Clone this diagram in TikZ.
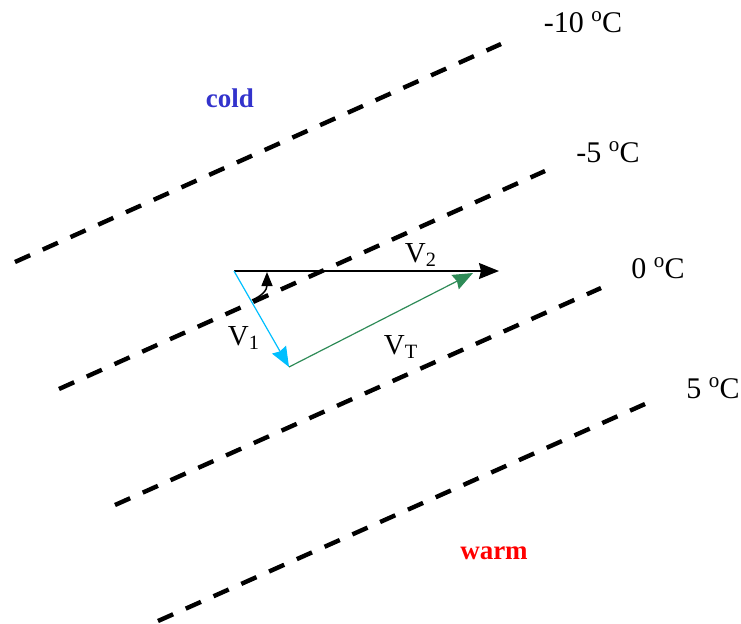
\documentclass[tikz,border=0pt]{standalone}
\usepackage{fontspec}
\setmainfont{Liberation Serif}
\usepackage{tikz}
\usetikzlibrary{arrows.meta,calc}
\definecolor{coldblue}{RGB}{51,51,204}
\definecolor{vgreen}{RGB}{46,139,87}
\definecolor{vcyan}{RGB}{0,191,255}
\newcommand{\degC}{ \textsuperscript{o}\kern-0.3pt C}

\begin{document}
\begin{tikzpicture}[x=0.5pt,y=-0.5pt,>={Stealth[length=10pt,width=8pt,inset=1pt]},
  isotherm/.style={line width=2.2pt,dash pattern=on 8.3pt off 6.9pt},
  templabel/.style={font=\fontsize{15}{17}\selectfont},
  veclabel/.style={font=\fontsize{14.5}{16}\selectfont}]
\useasboundingbox (0,0) rectangle (741,623);
% isotherms
\draw[isotherm] (15,262) -- (501,44);
\draw[isotherm] (59,389) -- (545,171);
\draw[isotherm] (115,505) -- (601,288);
\draw[isotherm] (158,621) -- (645,404);
\node[templabel] (tm10) at (583,22) {-10\degC};
\node[templabel] (tm5) at (608,152) {-5\degC};
\node[templabel] (t0) at (658,268) {0\degC};
\node[templabel] (t5) at (713,388) {5\degC};
\node[font=\fontsize{13.5}{16}\selectfont\bfseries,text=coldblue] (cold) at (230,98) {cold};
\node[font=\fontsize{13.5}{16}\selectfont\bfseries,text=red] (warm) at (494,553) {warm};
% wind vectors
\coordinate (O) at (234,271);
\coordinate (A) at (289,367);
\coordinate (B) at (473,273);
\coordinate (C) at (499,271);
\draw[->,line width=0.75pt] (O) -- (C);
\draw[->,vcyan,line width=0.6pt] (O) -- (A);
\draw[->,vgreen,line width=0.6pt] (A) -- (B);
\draw[-{Triangle[length=7pt,width=5.5pt]},line width=0.75pt] (252,300) .. controls (262,296) and (267,290) .. (267,272);
\node[veclabel] (v2) at (421,255) {V\textsubscript{2}};
\node[veclabel] (v1) at (244,338) {V\textsubscript{1}};
\node[veclabel] (vt) at (401,347) {V\textsubscript{T}};
\end{tikzpicture}
\end{document}
